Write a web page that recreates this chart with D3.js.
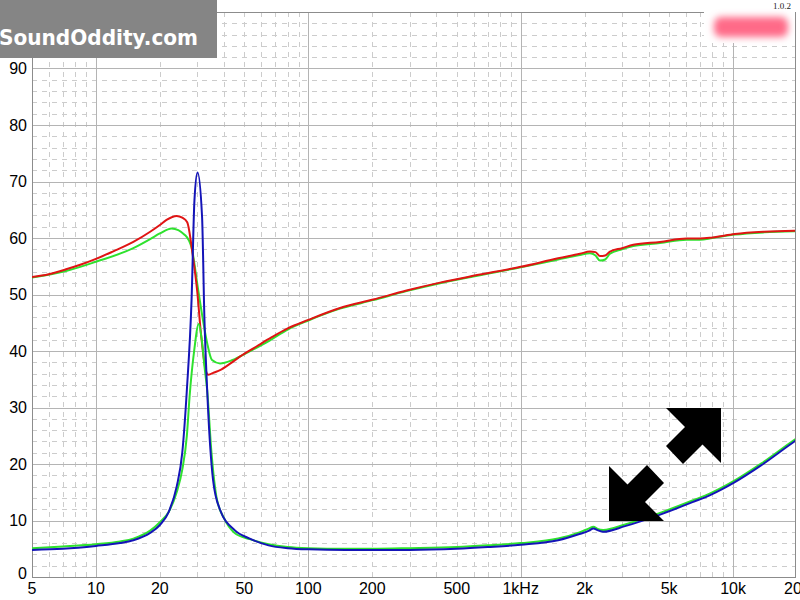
<!DOCTYPE html>
<html>
<head>
<meta charset="utf-8">
<script src="https://cdn.jsdelivr.net/npm/d3@7/dist/d3.min.js"></script>
<style>
  html, body { margin: 0; padding: 0; background: #fff; }
  svg { display: block; }
</style>
</head>
<body>
<svg id="chart" width="800" height="600"></svg>
<script>
// ---- data ----
const xTickValues = [5, 10, 20, 50, 100, 200, 500, 1000, 2000, 5000, 10000, 20000];
const xTickLabels = ["5", "10", "20", "50", "100", "200", "500", "1kHz", "2k", "5k", "10k", "20k"];
const yTickValues = [0, 10, 20, 30, 40, 50, 60, 70, 80, 90];
const yTickLabels = ["0", "10", "20", "30", "40", "50", "60", "70", "80", "90"];

const redFreq = [5, 6, 7.3, 8.5, 10, 12, 15, 18, 20, 21.5, 24, 25.5, 26.9, 28.6, 30, 31.2, 32.9, 33.8, 36, 38.4, 43, 47.6, 57, 67, 80, 100, 141, 202, 290, 417, 598, 1000, 1500, 1900, 2120, 2250, 2362, 2500, 2632, 3000, 3388, 4526, 6045, 6983, 8000, 10200, 14000, 19900];
const redVal  = [53.1, 53.6, 54.5, 55.3, 56.3, 57.6, 59.3, 61.1, 62.3, 63.2, 63.9, 63.6, 62.8, 56.8, 50.5, 43.2, 36.6, 35.8, 36.2, 36.6, 37.8, 39.0, 40.8, 42.4, 44.0, 45.5, 47.6, 49.1, 50.7, 52.1, 53.3, 54.9, 56.4, 57.2, 57.6, 57.5, 56.8, 56.9, 57.6, 58.2, 58.8, 59.3, 59.9, 59.9, 60.1, 60.7, 61.1, 61.3];

const greenHiFreq = [5, 7.3, 10, 15, 18, 20, 22.7, 26.3, 28.2, 30.3, 32.1, 33.4, 35.2, 38.4, 44, 52.7, 66, 80, 100, 141, 202, 290, 417, 598, 1000, 1500, 1900, 2120, 2250, 2362, 2500, 2632, 3000, 3388, 4526, 6045, 6983, 8000, 10200, 14000, 19900];
const greenHiVal  = [53.0, 54.2, 55.8, 58.2, 59.8, 60.8, 61.7, 60.5, 58.3, 50.8, 44.9, 41.4, 38.4, 37.8, 38.4, 39.9, 41.9, 43.8, 45.4, 47.5, 49.0, 50.6, 52.0, 53.2, 54.8, 56.2, 57.0, 57.3, 56.9, 56.0, 56.2, 57.2, 58.0, 58.6, 59.1, 59.7, 59.7, 60.0, 60.6, 61.0, 61.2];

const blueFreq = [5, 7, 10, 13, 15, 18, 20, 22, 24, 25.5, 26.8, 28.2, 29.1, 30.1, 31.6, 32.4, 33.4, 35.6, 38.4, 45, 53, 65, 80, 100, 150, 200, 300, 500, 700, 1000, 1500, 1890, 2100, 2200, 2300, 2449, 3100, 4500, 6500, 7800, 10100, 13600, 19300, 20000];
const blueVal  = [4.8, 5.0, 5.5, 6.0, 6.5, 7.8, 9.2, 11.5, 16.0, 22.0, 33.1, 49.0, 66.7, 71.6, 63.8, 46.1, 33.1, 17.2, 11.9, 8.3, 6.8, 5.6, 5.1, 4.9, 4.8, 4.8, 4.8, 5.0, 5.3, 5.7, 6.5, 7.6, 8.2, 8.6, 8.3, 8.0, 9.0, 11.0, 13.3, 14.5, 16.7, 19.8, 23.9, 24.3];

const greenLoFreq = [5, 7, 10, 13, 15, 18, 20, 22, 24, 25.5, 26.8, 27.6, 29, 30.5, 31.5, 32.5, 33.4, 35, 37, 40, 45, 53, 65, 80, 100, 150, 200, 300, 500, 700, 1000, 1500, 1890, 2100, 2200, 2300, 2449, 3100, 4500, 6500, 7800, 10100, 13600, 19300, 20000];
const greenLoVal  = [5.1, 5.4, 5.8, 6.3, 6.8, 8.2, 9.7, 11.5, 15.0, 19.0, 25.0, 31.9, 40.0, 44.8, 42.0, 37.0, 33.1, 22.0, 14.0, 10.5, 7.8, 6.7, 5.8, 5.3, 5.1, 5.0, 5.0, 5.1, 5.3, 5.6, 6.0, 6.8, 7.9, 8.6, 8.9, 8.5, 8.3, 9.3, 11.3, 13.6, 14.8, 17.0, 20.1, 24.2, 24.6];

(function () {
// ---- layout ----
const svg = d3.select("#chart");
const pL = 32, pR = 795, pT = 12, pB = 577;
const x = d3.scaleLog().domain([5, 20000]).range([32, 797]);
const y = d3.scaleLinear().domain([0, 100]).range([577, 12]);

const defs = svg.append("defs");
defs.append("clipPath").attr("id", "plotclip")
  .append("rect").attr("x", pL).attr("y", pT).attr("width", pR - pL).attr("height", pB - pT);
const blur = defs.append("filter").attr("id", "blur")
  .attr("x", "-50%").attr("y", "-80%").attr("width", "200%").attr("height", "260%");
blur.append("feGaussianBlur").attr("stdDeviation", 3.5);

// minor grid
const minorX = [];
[1, 10, 100, 1000, 10000].forEach(d => {
  for (let k = 2; k <= 9; k++) {
    const v = d * k;
    if (v > 5 && v < 20000 && ![10, 100, 1000, 10000].includes(v)) minorX.push(v);
  }
});
const minorY = d3.range(2, 100, 2).filter(v => v % 10 !== 0);
const grid = svg.append("g").attr("clip-path", "url(#plotclip)");
grid.selectAll("line.mx").data(minorX).join("line")
  .attr("x1", d => Math.round(x(d)) + 0.5).attr("x2", d => Math.round(x(d)) + 0.5)
  .attr("y1", pT).attr("y2", pB)
  .attr("stroke", "#cccccc").attr("stroke-width", 1).attr("stroke-dasharray", "5,5");
grid.selectAll("line.my").data(minorY).join("line")
  .attr("y1", d => Math.round(y(d)) + 0.5).attr("y2", d => Math.round(y(d)) + 0.5)
  .attr("x1", pL).attr("x2", pR)
  .attr("stroke", "#cccccc").attr("stroke-width", 1).attr("stroke-dasharray", "5,5");
grid.selectAll("line.Mx").data([10, 100, 1000, 10000]).join("line")
  .attr("x1", d => Math.round(x(d)) + 0.5).attr("x2", d => Math.round(x(d)) + 0.5)
  .attr("y1", pT).attr("y2", pB)
  .attr("stroke", "#b4b4b4").attr("stroke-width", 1);
grid.selectAll("line.My").data(yTickValues.filter(v => v > 0)).join("line")
  .attr("y1", d => Math.round(y(d)) + 0.5).attr("y2", d => Math.round(y(d)) + 0.5)
  .attr("x1", pL).attr("x2", pR)
  .attr("stroke", "#b4b4b4").attr("stroke-width", 1);

// border
svg.append("rect").attr("x", pL + 0.5).attr("y", pT + 0.5)
  .attr("width", pR - pL).attr("height", pB - pT)
  .attr("fill", "none").attr("stroke", "#8c8c8c").attr("stroke-width", 1);

// curves
const line = d3.line().x(d => x(d[0])).y(d => y(d[1])).curve(d3.curveMonotoneX);
const curves = svg.append("g").attr("clip-path", "url(#plotclip)");
const series = [
  { f: greenHiFreq, v: greenHiVal, c: "#2ee22e" },
  { f: redFreq, v: redVal, c: "#e01414" },
  { f: greenLoFreq, v: greenLoVal, c: "#2ee22e" },
  { f: blueFreq, v: blueVal, c: "#1414b8" }
];
series.forEach(s => {
  curves.append("path")
    .datum(s.f.map((f, i) => [f, s.v[i]]))
    .attr("d", line)
    .attr("fill", "none").attr("stroke", s.c).attr("stroke-width", 2)
    .attr("stroke-linejoin", "round");
});

// axes labels
const yAxis = svg.append("g").attr("font-family", "'Liberation Sans', Arial, sans-serif").attr("font-size", 16).attr("fill", "#000");
yAxis.selectAll("text").data(yTickValues).join("text")
  .attr("x", 27).attr("y", d => y(d) + (d === 0 ? -4 : 0))
  .attr("text-anchor", "end").attr("dominant-baseline", "central")
  .text((d, i) => yTickLabels[i]);
const xAxis = svg.append("g").attr("font-family", "'Liberation Sans', Arial, sans-serif").attr("font-size", 16).attr("fill", "#000");
xAxis.selectAll("text").data(xTickValues).join("text")
  .attr("x", d => x(d)).attr("y", 594)
  .attr("text-anchor", "middle")
  .text((d, i) => xTickLabels[i]);

// watermark
svg.append("rect").attr("x", 0).attr("y", 0).attr("width", 217).attr("height", 58).attr("fill", "#858585");
svg.append("text").attr("x", -1).attr("y", 45)
  .attr("font-family", "'DejaVu Sans', sans-serif").attr("font-weight", "bold").attr("font-size", 22)
  .attr("textLength", 199).attr("lengthAdjust", "spacingAndGlyphs")
  .attr("fill", "#ffffff").text("SoundOddity.com");

// blurred badge top right
svg.append("rect").attr("x", 704).attr("y", 11).attr("width", 91).attr("height", 32).attr("fill", "#ffffff");
svg.append("rect").attr("x", 714).attr("y", 17).attr("width", 74).attr("height", 20).attr("rx", 7)
  .attr("fill", "#ff6a88").attr("filter", "url(#blur)");
svg.append("text").attr("x", 782).attr("y", 9).attr("text-anchor", "middle")
  .attr("font-family", "'Liberation Serif', serif").attr("font-size", 9).attr("fill", "#222").text("1.0.2");

// expand arrows
const arrowTR = [[666, 408], [721, 408], [721, 463], [702.5, 444.5], [683, 464], [666, 446], [685, 427]];
const arrowBL = arrowTR.map(p => [1330 - p[0], 929 - p[1]]);
[arrowTR, arrowBL].forEach(pts => {
  svg.append("polygon").attr("points", pts.map(p => p.join(",")).join(" ")).attr("fill", "#000");
});
})();
</script>
</body>
</html>
